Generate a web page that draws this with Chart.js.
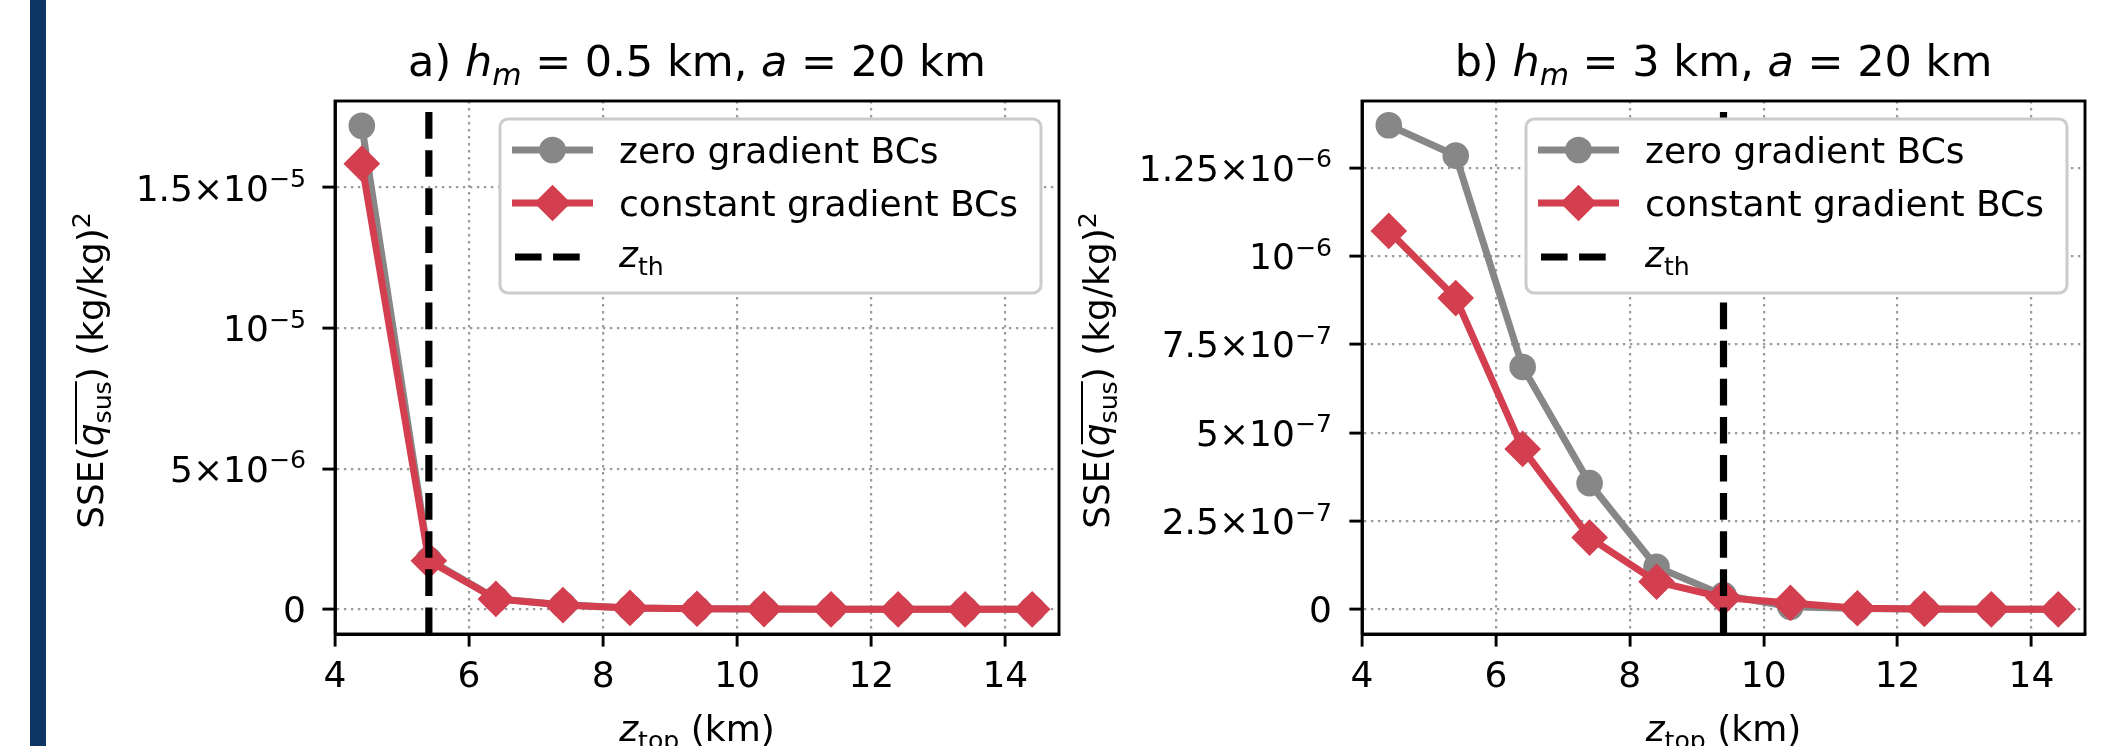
<!DOCTYPE html>
<html>
<head>
<meta charset="utf-8">
<script src="https://cdn.jsdelivr.net/npm/chart.js@4.4.0/dist/chart.umd.min.js"></script>
<style>
  html, body { margin: 0; padding: 0; background: #fff; }
  #wrap { position: relative; width: 2116px; height: 746px; overflow: hidden; background: #fff; }
  #bar { position: absolute; left: 30px; top: 0; width: 16px; height: 746px; background: #0c3563; }
  canvas { position: absolute; left: 0; top: 0; }
</style>
</head>
<body>
<div id="wrap">
  <div id="bar"></div>
  <canvas id="chartA" width="2116" height="746"></canvas>
  <canvas id="chartB" width="2116" height="746"></canvas>
</div>
<script>
// 數據
const zTop = [4.4, 5.4, 6.4, 7.4, 8.4, 9.4, 10.4, 11.4, 12.4, 13.4, 14.4];
const sseZeroA = [17.2e-6, 1.76e-6, 0.38e-6, 0.16e-6, 0.05e-6, 0.02e-6, 0.01e-6, 0, 0, 0, 0];
const sseConstA = [15.85e-6, 1.73e-6, 0.37e-6, 0.15e-6, 0.05e-6, 0.02e-6, 0.01e-6, 0, 0, 0, 0];
const sseZeroB = [1.37e-6, 1.284e-6, 0.686e-6, 0.357e-6, 0.12e-6, 0.04e-6, 0.007e-6, 0.002e-6, 0.001e-6, 0, 0];
const sseConstB = [1.071e-6, 0.881e-6, 0.454e-6, 0.203e-6, 0.078e-6, 0.033e-6, 0.018e-6, 0.003e-6, 0.001e-6, 0, 0];
const zThA = 5.4;
const zThB = 9.4;

const xTicks = [4, 6, 8, 10, 12, 14];
const xLim = [4, 14.8];
const yTicksA = [0, 5e-6, 1e-5, 1.5e-5];
const yTickLabelsA = ['0', '5×10^{\u22126}', '10^{\u22125}', '1.5×10^{\u22125}'];
const yLimA = [-0.878e-6, 18.08e-6];
const yTicksB = [0, 2.5e-7, 5e-7, 7.5e-7, 1e-6, 1.25e-6];
const yTickLabelsB = ['0', '2.5×10^{\u22127}', '5×10^{\u22127}', '7.5×10^{\u22127}', '10^{\u22126}', '1.25×10^{\u22126}'];
const yLimB = [-0.0699e-6, 1.4387e-6];

const GRAY = '#878787';
const RED = '#d43f50';
const FONT = '"DejaVu Sans", "Liberation Sans", sans-serif';
const W = 2116, H = 746;

// 文字片段 (模擬 mathtext 的上下標)
function fontOf(s, size) {
    const sz = (s.sub || s.sup) ? size * 0.7 : size;
    return (s.it ? 'italic ' : '') + sz + 'px ' + FONT;
}

function drawSegs(ctx, segs, x, y, size, align) {
    let w = 0;
    segs.forEach(s => { ctx.font = fontOf(s, size); w += ctx.measureText(s.t).width; });
    let cx = align === 'right' ? x - w : (align === 'center' ? x - w / 2 : x);
    ctx.textAlign = 'left';
    ctx.textBaseline = 'alphabetic';
    const spans = [];
    segs.forEach(s => {
        ctx.font = fontOf(s, size);
        const sw = ctx.measureText(s.t).width;
        const dy = s.sub ? size * 0.22 : (s.sup ? -size * 0.37 : 0);
        ctx.fillText(s.t, cx, y + dy);
        spans.push({ s: s, x0: cx, x1: cx + sw });
        cx += sw;
    });
    return spans;
}

function parseTick(str) {
    const segs = [];
    const re = /\^\{([^}]*)\}/g;
    let last = 0, m;
    while ((m = re.exec(str)) !== null) {
        if (m.index > last) segs.push({ t: str.slice(last, m.index) });
        segs.push({ t: m[1], sup: true });
        last = re.lastIndex;
    }
    if (last < str.length) segs.push({ t: str.slice(last) });
    return segs;
}

const xLabelSegs = [{ t: 'z', it: true }, { t: 'top', sub: true }, { t: ' (km)' }];
const yLabelSegs = [{ t: 'SSE(' }, { t: 'q', it: true, ov: true }, { t: 'sus', sub: true, ov: true }, { t: ') (kg/kg)' }, { t: '2', sup: true }];
const legendTexts = [
    [{ t: 'zero gradient BCs' }],
    [{ t: 'constant gradient BCs' }],
    [{ t: 'z', it: true }, { t: 'th', sub: true }]
];

function drawMarker(ctx, style, x, y, r, color, bw) {
    ctx.beginPath();
    if (style === 'circle') {
        ctx.arc(x, y, r, 0, Math.PI * 2);
    } else {
        ctx.moveTo(x - r, y); ctx.lineTo(x, y - r); ctx.lineTo(x + r, y); ctx.lineTo(x, y + r);
        ctx.closePath();
    }
    ctx.fillStyle = color; ctx.fill();
    ctx.lineWidth = bw; ctx.strokeStyle = color; ctx.stroke();
}

function drawLegend(chart, ctx, area) {
    const bw = 541, bh = 174;
    const bx = area.right - 18 - bw, by = area.top + 18;
    ctx.save();
    ctx.beginPath();
    ctx.roundRect(bx, by, bw, bh, 8);
    ctx.fillStyle = '#ffffff';
    ctx.fill();
    ctx.lineWidth = 3; ctx.strokeStyle = '#cccccc';
    ctx.stroke();
    const rows = [31, 84, 138];
    chart.data.datasets.forEach((ds, i) => {
        const cy = by + rows[i];
        const x0 = bx + 12, x1 = bx + 93;
        ctx.save();
        ctx.strokeStyle = ds.borderColor;
        ctx.lineWidth = ds.borderWidth;
        ctx.lineCap = 'butt';
        ctx.beginPath();
        if (ds.borderDash) {
            ctx.setLineDash(ds.borderDash);
            ctx.moveTo(x0 + 3, cy); ctx.lineTo(x1 - 12, cy);
        } else {
            ctx.moveTo(x0, cy); ctx.lineTo(x1, cy);
        }
        ctx.stroke();
        ctx.restore();
        if (ds.pointRadius > 0) {
            drawMarker(ctx, ds.pointStyle, (x0 + x1) / 2, cy, ds.pointRadius, ds.pointBackgroundColor, ds.pointBorderWidth);
        }
        ctx.fillStyle = '#000';
        drawSegs(ctx, legendTexts[i], bx + 119, cy + (i === 2 ? 10 : 13), 36, 'left');
    });
    ctx.restore();
}

function decor(cfg) {
    return {
        id: 'decor',
        afterDraw(chart) {
            const ctx = chart.ctx;
            const area = chart.chartArea;
            const xs = chart.scales.x, ys = chart.scales.y;
            ctx.save();
            // 四邊外框
            ctx.lineWidth = 2.9; ctx.strokeStyle = '#000';
            ctx.strokeRect(area.left, area.top, area.right - area.left, area.bottom - area.top);
            ctx.fillStyle = '#000';
            xs.ticks.forEach(t => {
                drawSegs(ctx, [{ t: String(t.value) }], xs.getPixelForValue(t.value), 687, 36, 'center');
            });
            cfg.yTicks.forEach((v, i) => {
                drawSegs(ctx, parseTick(cfg.yTickLabels[i]), area.left - cfg.yLabPad, ys.getPixelForValue(v) + 13, 36, 'right');
            });
            const cxm = (area.left + area.right) / 2;
            drawSegs(ctx, cfg.title, cxm, 76, 43, 'center');
            drawSegs(ctx, xLabelSegs, cxm, 741, 36, 'center');
            // y 軸標題 (旋轉)
            ctx.save();
            ctx.translate(cfg.yLabelX, (area.top + area.bottom) / 2 + 3);
            ctx.rotate(-Math.PI / 2);
            const spans = drawSegs(ctx, yLabelSegs, 0, 0, 36, 'center');
            const ov = spans.filter(p => p.s.ov);
            ctx.lineWidth = 2;
            ctx.strokeStyle = '#000';
            ctx.beginPath();
            ctx.moveTo(ov[0].x0 + 2, -27);
            ctx.lineTo(ov[ov.length - 1].x1, -27);
            ctx.stroke();
            ctx.restore();
            drawLegend(chart, ctx, area);
            ctx.restore();
        }
    };
}

function makeChart(id, cfg) {
    const pts = arr => zTop.map((x, i) => ({ x: x, y: arr[i] }));
    return new Chart(document.getElementById(id), {
        type: 'line',
        data: {
            datasets: [
                {
                    label: 'zero gradient BCs',
                    data: pts(cfg.zero),
                    borderColor: GRAY, backgroundColor: GRAY,
                    borderWidth: 7,
                    pointStyle: 'circle', pointRadius: 11.5, pointBorderWidth: 3.6,
                    pointBackgroundColor: GRAY, pointBorderColor: GRAY,
                    order: 2
                },
                {
                    label: 'constant gradient BCs',
                    data: pts(cfg.cons),
                    borderColor: RED, backgroundColor: RED,
                    borderWidth: 7,
                    pointStyle: 'rectRot', pointRadius: 15.8, pointBorderWidth: 3.6,
                    pointBackgroundColor: RED, pointBorderColor: RED,
                    order: 1
                },
                {
                    label: 'z_th',
                    data: [{ x: cfg.zTh, y: cfg.yLim[0] }, { x: cfg.zTh, y: cfg.yLim[1] }],
                    borderColor: '#000', backgroundColor: '#000',
                    borderWidth: 7.2, borderDash: [26.6, 11.5],
                    pointRadius: 0,
                    order: 0
                }
            ]
        },
        options: {
            responsive: false,
            animation: false,
            devicePixelRatio: 1,
            layout: { padding: { left: 0, top: cfg.top, right: W - cfg.right, bottom: 0 } },
            plugins: { legend: { display: false }, title: { display: false }, tooltip: { enabled: false } },
            scales: {
                x: {
                    type: 'linear',
                    min: xLim[0], max: xLim[1],
                    afterBuildTicks: s => { s.ticks = xTicks.map(v => ({ value: v })); },
                    afterFit: s => { s.height = H - cfg.bottom; },
                    ticks: { display: false },
                    grid: { color: '#9a9a9a', lineWidth: 2.2, drawTicks: true, tickLength: 12.6, tickColor: '#000', tickWidth: 2.9, tickBorderDash: [] },
                    border: { display: true, color: '#000', width: 2.9, dash: [2.4, 4.6] }
                },
                y: {
                    type: 'linear',
                    min: cfg.yLim[0], max: cfg.yLim[1],
                    afterBuildTicks: s => { s.ticks = cfg.yTicks.map(v => ({ value: v })); },
                    afterFit: s => { s.width = cfg.left; },
                    ticks: { display: false },
                    grid: { color: '#9a9a9a', lineWidth: 2.2, drawTicks: true, tickLength: 12.6, tickColor: '#000', tickWidth: 2.9, tickBorderDash: [] },
                    border: { display: true, color: '#000', width: 2.9, dash: [2.4, 4.6] }
                }
            }
        },
        plugins: [decor(cfg)]
    });
}

makeChart('chartA', {
    zero: sseZeroA, cons: sseConstA, zTh: zThA, yLim: yLimA,
    yTicks: yTicksA, yTickLabels: yTickLabelsA,
    left: 335, right: 1059, top: 101, bottom: 634,
    yLabPad: 29, yLabelX: 103,
    title: [{ t: 'a) ' }, { t: 'h', it: true }, { t: 'm', it: true, sub: true }, { t: ' = 0.5 km, ' }, { t: 'a', it: true }, { t: ' = 20 km' }]
});
makeChart('chartB', {
    zero: sseZeroB, cons: sseConstB, zTh: zThB, yLim: yLimB,
    yTicks: yTicksB, yTickLabels: yTickLabelsB,
    left: 1362, right: 2085, top: 101, bottom: 634,
    yLabPad: 30, yLabelX: 1109,
    title: [{ t: 'b) ' }, { t: 'h', it: true }, { t: 'm', it: true, sub: true }, { t: ' = 3 km, ' }, { t: 'a', it: true }, { t: ' = 20 km' }]
});
</script>
</body>
</html>
